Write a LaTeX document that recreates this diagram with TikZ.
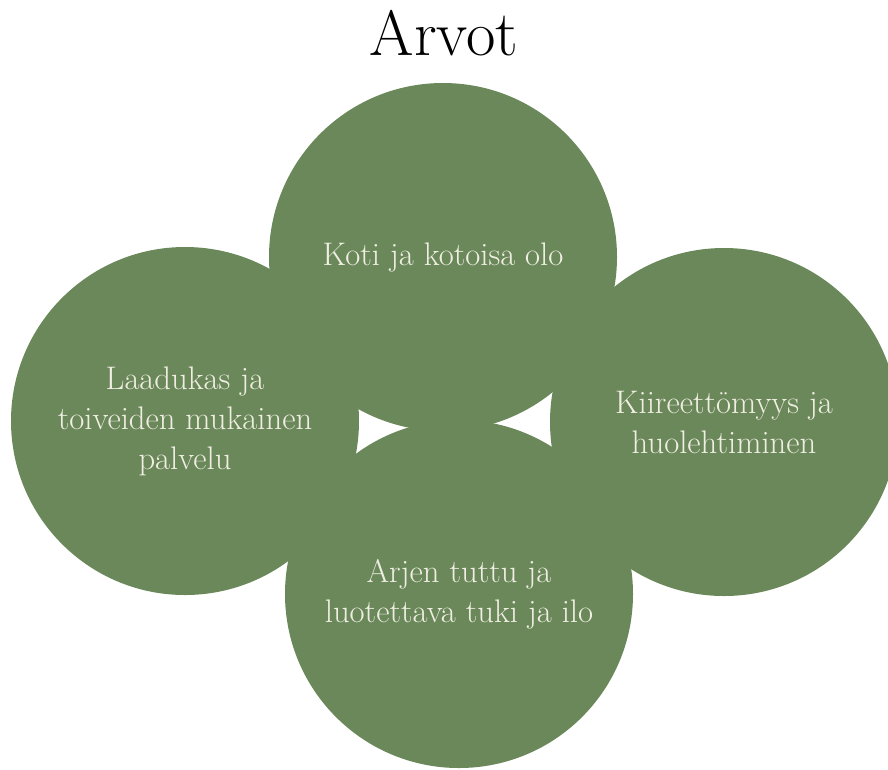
\documentclass[tikz,border=0pt]{standalone}
\usepackage{xcolor}
\usepackage{tikz}

\definecolor{leafgreen}{RGB}{106,136,90}
\definecolor{cream}{RGB}{240,238,226}

\begin{document}
\begin{tikzpicture}[x=0.75pt, y=-0.75pt,
    every node/.style={font=\fontsize{24.5}{30}\selectfont},
    petal/.style={circle, fill=leafgreen, minimum size=261pt, inner sep=0pt,
        text=cream, align=center}]
        \useasboundingbox (0,0) rectangle (888,769);

        % Title
        \node[font=\fontsize{48}{52}\selectfont] (title) at (444,33) {Arvot};

        % Four circles, text inside
        \node[petal] (koti) at (443,257) {Koti ja kotoisa olo};
        \node[petal] (laatu) at (185,421) {Laadukas ja\\toiveiden mukainen\\palvelu};
        \node[petal] (kiire) at (724,422) {Kiireettömyys ja\\huolehtiminen};
        \node[petal] (arki) at (459,594) {Arjen tuttu ja\\luotettava tuki ja ilo};
    \end{tikzpicture}
\end{document}
